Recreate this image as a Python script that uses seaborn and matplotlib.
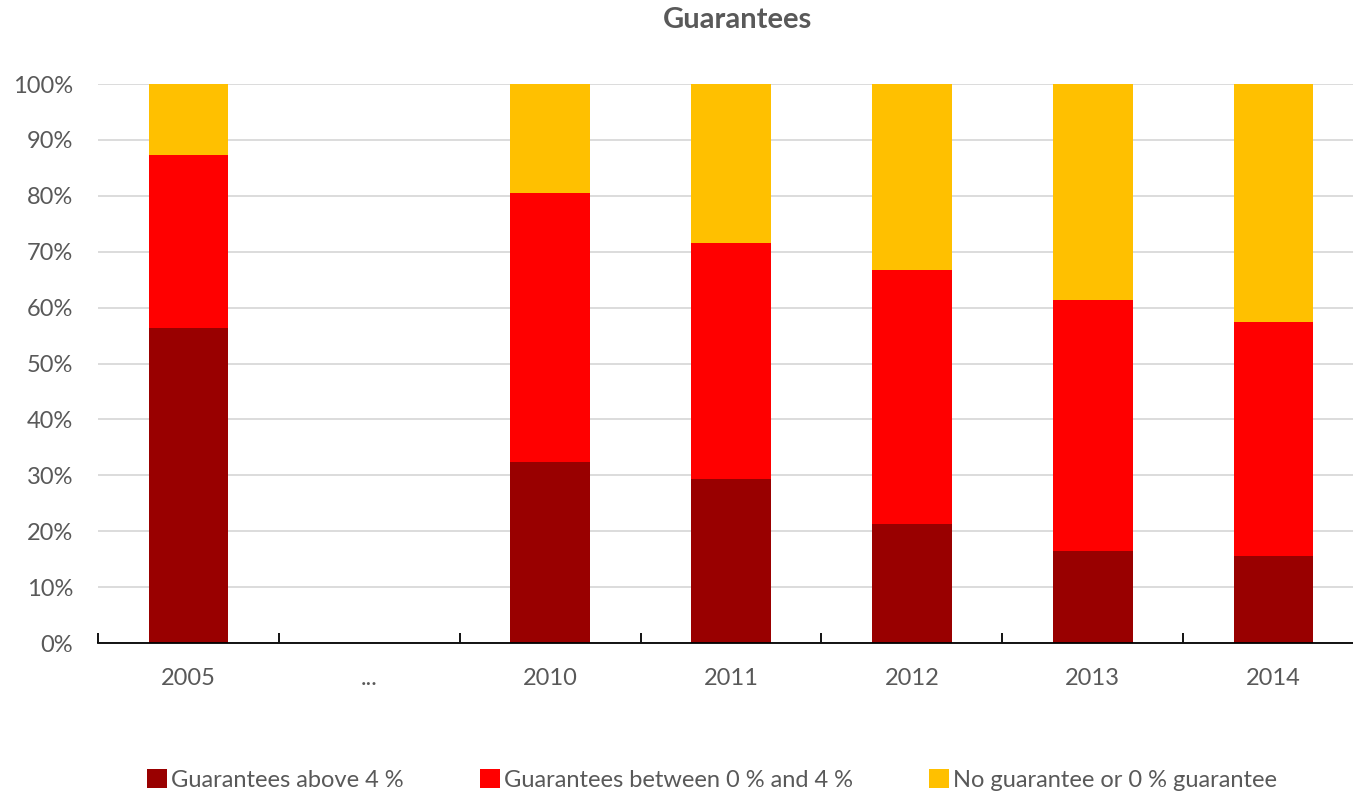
import numpy as np
import pandas as pd
import matplotlib
matplotlib.use("Agg")
import matplotlib.pyplot as plt
import seaborn as sns
from matplotlib.patches import Patch

categories = ["2005", "...", "2010", "2011", "2012", "2013", "2014"]
above_4 = [56.4, np.nan, 32.4, 29.3, 21.3, 16.5, 15.6]
between_0_4 = [30.9, np.nan, 48.1, 42.3, 45.4, 44.9, 41.8]
no_guarantee = [12.7, np.nan, 19.5, 28.4, 33.3, 38.6, 42.6]
series_names = ["Guarantees above 4 %", "Guarantees between 0 % and 4 %", "No guarantee or 0 % guarantee"]
colors = ["#990000", "#FF0000", "#FFC000"]

sns.set_theme(style="white")
plt.rcParams["font.family"] = ["Lato", "DejaVu Sans"]

df = pd.DataFrame({"cat": categories, "a": above_4, "b": between_0_4, "c": no_guarantee})
df["cum_b"] = df["a"] + df["b"]
df["cum_c"] = df["cum_b"] + df["c"]

fig = plt.figure(figsize=(13.53, 7.94), dpi=100)
W, H = 1353, 794
ax = fig.add_axes([98 / W, (H - 643) / H, (1364 - 98) / W, 559 / H])

for col, color in zip(["cum_c", "cum_b", "a"], colors[::-1]):
    sns.barplot(data=df, x="cat", y=col, order=categories, color=color, ax=ax,
                width=0.44, saturation=1, edgecolor="none", linewidth=0, errorbar=None)

ax.set_ylim(0, 100)
ax.set_xlim(-0.5, len(categories) - 0.5)
ax.set_yticks(np.arange(0, 101, 10))
ax.set_yticklabels([f"{v}%" for v in range(0, 101, 10)], fontsize=17, color="#595959")
ax.set_xticks(range(len(categories)))
ax.set_xticklabels(categories, fontsize=17, color="#595959")
ax.tick_params(axis="x", which="major", length=0, pad=18)
ax.tick_params(axis="y", length=0, pad=18)
ax.set_xlabel("")
ax.set_ylabel("")
ax.yaxis.grid(True, color="#D9D9D9", linewidth=1.3)
ax.set_axisbelow(True)
for s in ["top", "right", "left"]:
    ax.spines[s].set_visible(False)
ax.spines["bottom"].set_color("black")
ax.spines["bottom"].set_linewidth(1.3)
ax.spines["bottom"].set_zorder(5)
# category boundary tick marks
ax.set_xticks(np.arange(-0.5, len(categories), 1.0), minor=True)
ax.tick_params(axis="x", which="minor", bottom=True, direction="in", length=7, width=1.3, color="black")

fig.text(738 / W, 1 - 20 / H, "Guarantees", ha="center", va="center",
         fontsize=21, fontweight="bold", color="#595959")

handles = [Patch(facecolor=c, edgecolor="none") for c in colors]
fig.legend(handles, series_names, loc="center", bbox_to_anchor=(712 / W, 1 - 780 / H),
           ncol=3, frameon=False, fontsize=17, handlelength=0.85, handleheight=0.85,
           handletextpad=0.15, columnspacing=3.25, labelcolor="#595959")

fig.savefig("out.png", dpi=100)
